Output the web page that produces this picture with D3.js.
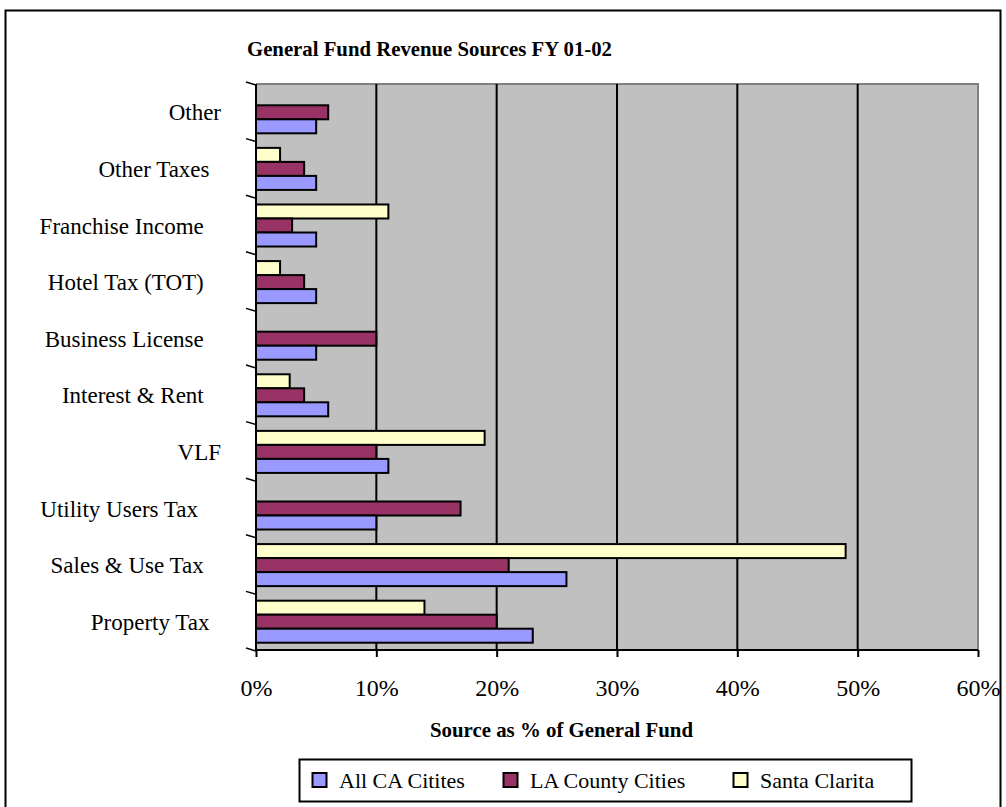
<!DOCTYPE html>
<html><head><meta charset="utf-8">
<script src="https://cdn.jsdelivr.net/npm/d3@7/dist/d3.min.js"></script>
<style>
html,body{margin:0;padding:0;background:#fff;}
svg{display:block;font-family:"Liberation Serif","Times New Roman",serif;}
</style></head>
<body>
<svg id="chart" width="1006" height="807"></svg>
<script>
const categories = ["Property Tax  ","Sales & Use Tax   ","Utility Users Tax    ","VLF","Interest & Rent   ","Business License   ","Hotel Tax (TOT)   ","Franchise Income   ","Other Taxes  ","Other"];
const seriesNames = ["Santa Clarita","LA County Cities","All CA Citites"];
const allCA = [23,25.8,10,11,6,5,5,5,5,5];
const laCounty = [20,21,17,10,4,10,4,3,4,6];
const santaClarita = [14,49,0,19,2.8,0,2,11,2,0];
const seriesColors = ["#FFFFCC","#993366","#9999FF"];
const xTicks = [0,0.1,0.2,0.3,0.4,0.5,0.6];
const legendOrder = [2,1,0];

const seriesValues = [santaClarita, laCounty, allCA];
const svg = d3.select("#chart");

// outer frame
svg.append("rect").attr("x",5.5).attr("y",10.5).attr("width",995).attr("height",810)
  .attr("fill","none").attr("stroke","#000").attr("stroke-width",2);

const L=256, R=978, T=84, B=650;
const x = d3.scaleLinear().domain([0,0.6]).range([L,R]);
const y = d3.scaleBand().domain(d3.range(categories.length)).range([B,T]).paddingInner(0).paddingOuter(0);
const inner = d3.scaleBand().domain([0,1,2]).range([0,y.bandwidth()]).paddingInner(0).paddingOuter(0.52);

svg.append("rect").attr("x",L).attr("y",T).attr("width",R-L).attr("height",B-T).attr("fill","#C0C0C0");
svg.append("path").attr("d",`M${L},${T}H${R}V${B}`).attr("fill","none").attr("stroke","#808080").attr("stroke-width",2);

// gridlines
svg.append("g").selectAll("line").data(xTicks.slice(1,-1)).join("line")
  .attr("x1",d=>x(d)).attr("x2",d=>x(d)).attr("y1",T).attr("y2",B)
  .attr("stroke","#000").attr("stroke-width",2);

// bars
const groups = svg.append("g").selectAll("g").data(categories).join("g")
  .attr("transform",(d,i)=>`translate(0,${y(i)})`);
groups.each(function(c,i){
  const g=d3.select(this);
  seriesValues.forEach((vals,s)=>{
    if(vals[i]<=0) return;
    g.append("rect").attr("x",x(0)).attr("y",inner(s))
      .attr("width",x(vals[i]/100)-x(0)).attr("height",inner.bandwidth())
      .attr("fill",seriesColors[s]).attr("stroke","#000").attr("stroke-width",2);
  });
});

// x axis
const xAxis = d3.axisBottom(x).tickValues(xTicks).tickFormat(d3.format(".0%")).tickSize(7).tickPadding(16);
const gx = svg.append("g").attr("transform",`translate(0,${B})`).call(xAxis);
gx.select(".domain").attr("stroke","#000").attr("stroke-width",2).attr("d",`M${L},0H${R}`);
gx.selectAll(".tick line").attr("stroke","#000").attr("stroke-width",2);
gx.selectAll(".tick text").attr("font-family","Liberation Serif").attr("font-size",24).attr("fill","#000")
  .attr("y",46).attr("dy",null);

// y axis line and slanted ticks
svg.append("line").attr("x1",L).attr("x2",L).attr("y1",T).attr("y2",B+1).attr("stroke","#000").attr("stroke-width",2);
svg.append("g").selectAll("line").data(d3.range(categories.length+1)).join("line")
  .attr("x1",L-10).attr("x2",L).attr("y1",d=>(d<categories.length? y(d)+y.bandwidth(): T)-2).attr("y2",d=>(d<categories.length? y(d)+y.bandwidth(): T)+1)
  .attr("stroke","#000").attr("stroke-width",1.5);

// category labels
svg.append("g").selectAll("text").data(categories).join("text")
  .attr("x",221).attr("y",(d,i)=>y(i)+y.bandwidth()/2+8)
  .attr("text-anchor","end")
  .style("white-space","pre").attr("xml:space","preserve")
  .attr("font-size",23).attr("fill","#000").text(d=>d);

// title
svg.append("text").attr("x",247).attr("y",56).attr("font-weight","bold").attr("font-size",22)
  .attr("textLength",365).attr("lengthAdjust","spacingAndGlyphs")
  .text("General Fund Revenue Sources FY 01-02");

// x axis title
svg.append("text").attr("x",430).attr("y",737).attr("font-weight","bold").attr("font-size",21)
  .attr("textLength",263).attr("lengthAdjust","spacingAndGlyphs")
  .text("Source as % of General Fund");

// legend
const lg = svg.append("g");
lg.append("rect").attr("x",299.5).attr("y",759.5).attr("width",612).attr("height",42)
  .attr("fill","#fff").attr("stroke","#000").attr("stroke-width",2);
const legX = [312,503,733];
const item = lg.selectAll("g.item").data(legendOrder).join("g").attr("class","item")
  .attr("transform",(d,k)=>`translate(${legX[k]},780)`);
item.append("rect").attr("x",0.5).attr("y",-7).attr("width",14).attr("height",14)
  .attr("fill",d=>seriesColors[d]).attr("stroke","#000").attr("stroke-width",2);
item.append("text").attr("x",27).attr("y",8)
  .attr("font-size",22).text(d=>seriesNames[d]);
</script>
</body></html>
